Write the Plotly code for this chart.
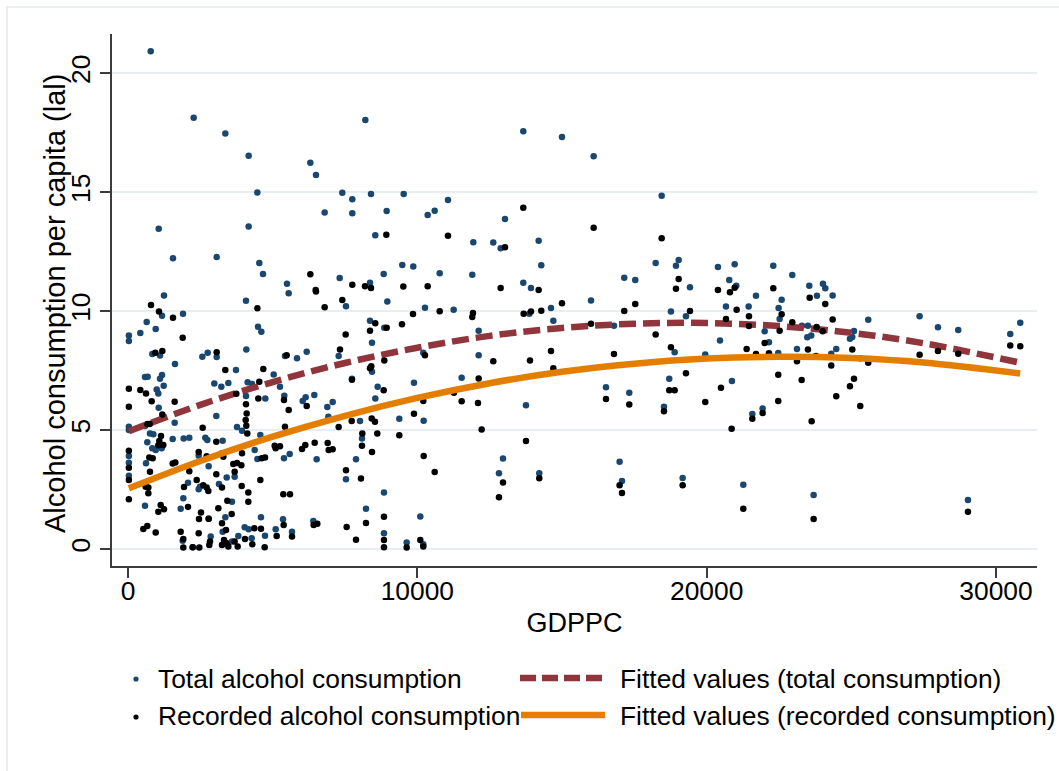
import plotly.graph_objects as go

# GDP per capita and total (recorded + unrecorded) alcohol consumption, litres per capita
total_gdp = [
    785, 2270, 3364, 4170, 8203, 6302, 6497, 4470, 7407, 7752, 8398, 9528, 6797, 7752,
    8940, 8547, 1061, 4170, 1555, 3065, 4538, 4666, 5495, 7316, 8837, 9480, 9860, 8364,
    13662, 14999, 16094, 18445, 10358, 10600, 11059, 11934, 12625, 12880, 13029, 14193,
    14283, 10773, 11899, 13662, 13928, 17151, 17532, 18237, 19032, 18939, 19423, 20390, 20781,
    20967, 22302, 22959, 21024, 23546, 24019, 24099, 21704, 22591, 22487, 22522, 20667,
    21451, 23812, 24354, 23293, 23501, 23477, 23614, 23121, 24306, 24479, 24952, 25033,
    25091, 25585, 22004, 22153, 20460, 20874, 22474, 21578, 21934, 21266, 23697, 29030,
    27360, 27994, 28695, 30492, 30838,
    10264, 11256, 12120, 13870, 14619, 14700, 16002, 16797, 18765, 19284, 19951, 18893,
    18707, 18524, 19170, 16990, 17073, 16520, 17325, 13755, 12120, 11532, 10206, 9884,
    10219, 12960, 12822, 14214, 10102, 10206,
    5553, 7534, 8963, 8364, 8858, 8433, 8433, 7741, 7281, 8547, 8629, 9377, 8087, 8018,
    7880, 7534, 8847, 8225, 8847, 9631, 6889, 6924, 7074, 6439, 6037, 6141, 6521, 6405,
    6176, 5841, 5426, 5402, 5391, 5588, 5357, 5668, 5035, 5253, 5104, 4746, 4493, 4608,
    4078, 4089, 4078, 3940, 3767, 4136, 4285, 4573, 4470, 4378, 3594, 3686, 3411, 3249,
    3145, 3732, 3468, 2983, 3225, 3065, 2754, 2569, 3052, 3272, 2672, 2741, 2788, 2443,
    2488, 2443, 2788, 2236, 1890, 1912, 1821, 2074, 1544, 1924, 2119, 1613, 1624, 1901,
    1244, 1175, 957, 646, 425, 30, 30, 840, 1106, 588, 680, 1106, 1175, 1233, 992, 1048,
    1061, 588, 30, 30, 760, 875, 667, 840, 957, 1164, 30, 30, 30, 622, 588, 3364, 3272,
    3594, 3813, 4032, 4170, 4596, 4274, 4735, 2858,
]
total_alc = [
    20.93, 18.13, 17.47, 16.53, 18.03, 16.24, 15.72, 14.99, 14.98, 14.70, 14.92, 14.92, 14.15, 14.11,
    14.21, 13.19, 13.46, 13.56, 12.22, 12.27, 12.02, 11.56, 11.15, 11.39, 11.56, 11.94, 11.88, 11.19,
    17.56, 17.32, 16.51, 14.85, 14.04, 14.22, 14.67, 12.90, 12.89, 12.64, 13.87, 12.96,
    11.93, 11.59, 11.53, 11.19, 10.97, 11.40, 11.31, 12.02, 12.15, 11.91, 11.00, 11.85, 11.31,
    11.97, 11.91, 11.52, 11.07, 11.07, 11.15, 10.96, 10.65, 10.48, 10.13, 9.67, 10.19,
    10.19, 10.65, 10.66, 9.39, 9.39, 8.90, 8.97, 8.41, 8.21, 8.41, 8.84, 8.91,
    9.16, 9.64, 9.15, 8.69, 8.77, 7.06, 8.24, 5.67, 5.91, 2.70, 2.27, 2.06,
    9.78, 9.32, 9.21, 9.04, 9.51,
    10.14, 10.06, 9.18, 9.89, 10.13, 9.60, 10.45, 9.39, 9.98, 9.78, 8.18, 8.27,
    7.16, 5.98, 2.98, 3.67, 2.86, 6.80, 6.57, 6.04, 8.14, 7.20, 8.25, 6.99,
    5.39, 3.80, 3.18, 3.18, 1.37, 0.20,
    10.75, 10.21, 10.40, 9.60, 9.30, 8.67, 7.45, 7.16, 8.11, 6.33, 6.82, 5.48, 4.64, 5.38,
    3.77, 2.93, 2.37, 1.69, 0.66, 0.27, 5.97, 5.56, 6.18, 6.47, 6.22, 6.38, 3.77, 1.18,
    8.29, 8.02, 8.11, 6.44, 3.81, 3.99, 1.25, 0.73, 7.34, 6.82, 0.83, 6.33, 9.34, 9.13,
    10.44, 8.39, 6.43, 4.97, 5.13, 7.01, 6.94, 4.79, 3.78, 4.16, 1.99, 3.04, 3.01, 4.02,
    2.73, 7.52, 6.98, 6.96, 6.82, 8.07, 8.25, 8.08, 5.59, 4.55, 4.68, 4.58, 3.48, 3.92,
    2.62, 2.51, 1.27, 0.07, 0.35, 2.13, 1.69, 2.79, 4.62, 4.65, 4.68, 5.31, 7.78, 9.89,
    10.66, 9.81, 9.25, 9.54, 9.08, 8.97, 8.74, 8.20, 8.13, 7.23, 7.24, 7.16, 7.31, 6.86, 6.71, 6.54,
    5.94, 5.17, 5.14, 5.00, 4.86, 4.82, 4.49, 4.23, 4.16, 4.23, 3.91, 3.63, 3.08, 3.60, 1.82, 1.33, 0.73,
    0.31, 0.55, 0.91, 0.83, 1.33, 0.45, 0.56, 0.52,
]

# GDP per capita and recorded alcohol consumption, litres per capita
rec_gdp = [
    8928, 6302, 7752, 8191, 9515, 8398, 6487,
    13662, 16094, 18445, 11059, 13029, 10358, 12880, 14193, 19032, 18939, 20390,
    20967, 22302,
    20805, 22591, 22522, 20667, 21462, 21462, 21036, 23560, 24099, 24354, 22959, 23801,
    24009, 23501, 23121, 23283, 23777, 24306, 24479, 25033, 25091, 24952, 25308, 25585,
    25298, 22004, 22153, 21704, 21382, 20494, 20863, 22474, 22474, 21578, 21934, 23628,
    21266, 23697, 29030, 27360, 27994, 28695, 30492, 30838,
    9850, 10773, 11923, 11899, 13675, 13928, 14283, 14999, 16002, 17151, 17532, 18237,
    19423, 19951, 18765, 18707, 18893, 19284, 18524, 19170, 16990, 17073, 16520, 17325,
    16796, 14700, 14619, 13893, 13755, 12625, 12120, 12096, 12223, 11532, 11267, 10264,
    10206, 9884, 10219, 10600, 12960, 12822, 14214, 10102, 10206,
    6497, 6797, 7407, 9469, 8364, 8547, 8940, 8364, 8409, 7741, 7523, 7327, 8837, 8858,
    9377, 8087, 8098, 7731, 8422, 8536, 8616, 8433, 7534, 8052, 8225, 8847, 7557, 7880,
    8847, 8847, 9631, 7281, 6901, 6936, 7074, 6176, 6452, 6129, 6014, 6418, 6543, 5484,
    5391, 5553, 5426, 5368, 5599, 5380, 5668, 5070, 5104, 5253, 5139, 4676, 4538, 4504,
    4470, 3743, 4078, 4101, 4067, 4089, 4124, 4620, 4735, 3940, 3917, 4573, 4158, 4158,
    3929, 3640, 3686, 3767, 3295, 3052, 3249, 3364, 3065, 3052, 2581, 2719, 2443, 2119,
    2374, 2602, 2720, 2776, 2788, 2523, 2454, 2443, 2236, 2465, 1912, 1821, 1912, 2074,
    1935, 1635, 1544, 1613, 1890, 1555, 1071, 795, 1186, 944, 425, 622, 30, 30,
    818, 1186, 750, 667, 1140, 1082, 1221, 1048, 30, 30, 30, 30, 737, 853,
    760, 611, 703, 703, 1129, 1048, 1244, 530, 667, 957, 3122, 3433, 3583, 3249,
    3387, 3318, 3249, 3410, 3468, 3790, 3686, 4043, 4366, 4596, 4297, 4724, 2834, 2810,
]
rec_alc = [
    13.21, 11.55, 11.11, 11.05, 11.04, 10.97, 10.89,
    14.35, 13.51, 13.06, 13.17, 12.68, 11.05, 10.97, 10.89, 11.35, 10.94, 10.89,
    10.98, 10.96,
    10.79, 9.87, 9.18, 9.67, 9.78, 9.37, 10.06, 10.56, 10.30, 9.65, 9.53, 9.33,
    9.15, 8.39, 7.89, 7.10, 8.11, 7.71, 6.42, 8.39, 7.16, 6.84, 6.01, 7.83,
    8.02, 8.66, 8.23, 8.20, 8.41, 6.78, 5.06, 7.33, 6.22, 5.48, 5.72, 5.37,
    1.69, 1.26, 1.57, 8.17, 8.32, 8.21, 8.55, 8.52,
    9.88, 9.99, 9.92, 9.75, 9.89, 9.98, 10.02, 10.33, 9.47, 10.00, 10.30, 9.02,
    10.00, 6.18, 8.48, 6.67, 6.67, 7.39, 5.79, 2.68, 2.68, 2.35, 6.31, 6.07,
    8.20, 7.60, 8.32, 7.92, 4.54, 7.89, 7.17, 6.14, 5.02, 6.21, 6.57, 8.14,
    6.22, 5.69, 3.91, 3.24, 2.80, 2.17, 2.97, 0.38, 0.10,
    10.82, 10.16, 10.47, 9.45, 9.18, 9.49, 9.30, 7.60, 7.68, 7.12, 9.02, 8.39, 6.67, 7.92,
    4.78, 4.34, 4.85, 5.38, 5.49, 5.35, 4.85, 4.08, 3.31, 2.96, 1.09, 1.36, 0.92, 0.39,
    0.38, 0.07, 0.06, 5.13, 4.46, 4.16, 4.19, 6.01, 4.47, 4.37, 4.20, 1.01, 1.06, 8.15,
    6.26, 5.84, 5.14, 2.30, 2.30, 1.01, 0.52, 4.34, 4.23, 4.32, 0.55, 7.57, 7.03, 6.33,
    10.12, 6.53, 6.08, 5.70, 5.42, 5.18, 4.85, 3.81, 3.85, 4.02, 3.52, 2.90, 2.38, 1.99,
    2.65, 3.57, 3.25, 3.61, 3.88, 3.14, 2.58, 7.52, 8.27, 4.51, 5.10, 3.90, 4.08, 3.27,
    2.90, 2.68, 2.58, 2.44, 1.27, 1.53, 1.26, 0.66, 0.07, 0.06, 0.42, 0.73, 0.06, 1.77,
    2.61, 3.64, 3.59, 6.19, 8.88, 9.72, 9.98, 10.26, 8.32, 8.25, 6.68, 6.54, 6.74, 5.98,
    6.21, 5.65, 5.25, 5.25, 4.75, 4.54, 4.37, 4.36, 4.13, 3.42, 2.90, 2.09, 3.85, 3.81,
    3.25, 2.62, 2.59, 2.34, 1.85, 1.57, 1.67, 0.84, 0.97, 0.69, 1.71, 2.03, 1.47, 1.08,
    0.80, 0.38, 0.17, 0.24, 0.10, 0.10, 0.31, 0.42, 0.87, 0.85, 0.20, 0.07, 0.31, 0.17,
]

# Quadratic fitted values along the GDPPC range
fit_gdp = [30, 2500, 5000, 7500, 10000, 12500, 15000, 17500, 20000, 22500, 25000, 27500, 30838]
fit_total = [4.95, 6.06, 7.02, 7.82, 8.46, 8.96, 9.29, 9.47, 9.50, 9.37, 9.09, 8.65, 7.83]
fit_recorded = [2.55, 3.70, 4.72, 5.60, 6.35, 6.97, 7.45, 7.79, 8.01, 8.08, 8.03, 7.84, 7.38]

x_ticks = [0, 10000, 20000, 30000]
y_ticks = [0, 5, 10, 15, 20]

NAVY = "#1a476f"
MAROON = "#90353b"
DKORANGE = "#e37e00"
AXIS = "#3c3c3c"
GRID = "#e7eef1"
FONT = "Liberation Sans, Arial, sans-serif"
FS = 26.4

# figure and plot-area geometry (pixels)
W, H = 1059, 771
L, R, T, B = 112, 1037, 34, 566


def px(x):
    return (x - L) / (R - L)


def py(y):
    return (B - y) / (B - T)


fig = go.Figure()
fig.add_trace(go.Scatter(x=total_gdp, y=total_alc, mode="markers",
                         marker=dict(color=NAVY, size=6.5, line=dict(width=0)),
                         name="Total alcohol consumption"))
fig.add_trace(go.Scatter(x=fit_gdp, y=fit_total, mode="lines",
                         line=dict(color=MAROON, width=6.5, dash="17px,7px",
                                   shape="spline", smoothing=1.0),
                         name="Fitted values (total consumption)"))
fig.add_trace(go.Scatter(x=rec_gdp, y=rec_alc, mode="markers",
                         marker=dict(color="black", size=6.5, line=dict(width=0)),
                         name="Recorded alcohol consumption"))
fig.add_trace(go.Scatter(x=fit_gdp, y=fit_recorded, mode="lines",
                         line=dict(color=DKORANGE, width=6.5, shape="spline", smoothing=1.0),
                         name="Fitted values (recorded consumption)"))

shapes = []
# outer frame of the graph region
shapes.append(dict(type="rect", xref="paper", yref="paper",
                   x0=px(7), x1=px(1075), y0=py(7), y1=py(790),
                   line=dict(color="#e3ebee", width=1.5), layer="below"))

# legend keys
r = 2.6
for yy, col in [(679, NAVY), (717, "black")]:
    shapes.append(dict(type="circle", xref="paper", yref="paper",
                       x0=px(136 - r), x1=px(136 + r), y0=py(yy + r), y1=py(yy - r),
                       fillcolor=col, line=dict(width=0)))
shapes.append(dict(type="line", xref="paper", yref="paper",
                   x0=px(520), x1=px(605), y0=py(678), y1=py(678),
                   line=dict(color=MAROON, width=6.5, dash="16px,6px")))
shapes.append(dict(type="line", xref="paper", yref="paper",
                   x0=px(521), x1=px(605), y0=py(715), y1=py(715),
                   line=dict(color=DKORANGE, width=6.5)))

annotations = []
for text, xx, yy in [("Total alcohol consumption", 156, 679),
                     ("Recorded alcohol consumption", 156, 716),
                     ("Fitted values (total consumption)", 618, 679),
                     ("Fitted values (recorded consumption)", 618, 716)]:
    annotations.append(dict(text=text, xref="paper", yref="paper",
                            x=px(xx), y=py(yy), xanchor="left", yanchor="middle",
                            showarrow=False, font=dict(size=FS, color="black", family=FONT)))

# y-axis title
annotations.append(dict(text="Alcohol consumption per capita (lal)", xref="paper", yref="paper",
                        x=px(55), y=py(304), xanchor="center", yanchor="middle", textangle=-90,
                        showarrow=False, font=dict(size=29, color="black", family=FONT)))

fig.update_layout(
    width=W, height=H,
    margin=dict(l=L, r=W - R, t=T, b=H - B, pad=0),
    paper_bgcolor="white", plot_bgcolor="white",
    showlegend=False,
    font=dict(family=FONT, color="black", size=FS),
    shapes=shapes, annotations=annotations,
    xaxis=dict(range=[-553, 31417], tickvals=x_ticks, ticktext=[str(v) for v in x_ticks],
               showgrid=False, zeroline=False, showline=True, linecolor=AXIS, linewidth=1.5,
               ticks="outside", ticklen=10, tickwidth=1.5, tickcolor=AXIS,
               ticklabelstandoff=-9,
               tickfont=dict(size=FS, family=FONT, color="black"),
               title=dict(text="GDPPC", font=dict(size=27, family=FONT, color="black"), standoff=8)),
    yaxis=dict(range=[-0.715, 21.65], tickvals=y_ticks, ticktext=[str(v) for v in y_ticks],
               showgrid=True, gridcolor=GRID, gridwidth=2, zeroline=False,
               showline=True, linecolor=AXIS, linewidth=1.5,
               ticks="outside", ticklen=10, tickwidth=1.5, tickcolor=AXIS, tickangle=-90,
               tickfont=dict(size=FS, family=FONT, color="black")),
)

fig.write_html("out.html")
